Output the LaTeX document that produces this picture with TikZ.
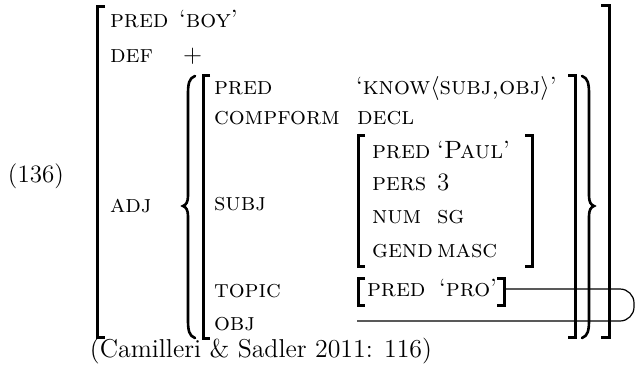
\documentclass[tikz,border=0pt]{standalone}
\usepackage{fontspec}
\usepackage{graphicx}
\begin{document}
\begin{tikzpicture}[x=0.5pt,y=-0.5pt,
  every node/.style={inner sep=0pt,outer sep=0pt,anchor=base west,
    font=\fontsize{12.5}{15}\selectfont},
  fbracket/.style={line width=1.5pt,line cap=butt,line join=miter},
  fbrace/.style={line width=1.3pt,line cap=round},
  link/.style={line width=0.6pt}]
\useasboundingbox (0,0) rectangle (636,369);

% example number
\node (exnum) at (8,182) {(136)};

% outer f-structure
\node (pred0) at (110,28) {\textsc{pred}};
\node (boy) at (179,28) {`\textsc{boy}'};
\node (def) at (110,62) {\textsc{def}};
\node (plus) at (183,62) {+};
\node (adj) at (110,212) {\textsc{adj}};

% adjunct f-structure
\node (pred1) at (214,95) {\textsc{pred}};
\node (know) at (356,95) {`\textsc{know}$\langle$\textsc{subj,obj}$\rangle$'};
\node (compform) at (214,124) {\textsc{compform}};
\node (decl) at (357,124) {\textsc{decl}};
\node (subj) at (214,210) {\textsc{subj}};
\node (topic) at (214,297) {\textsc{topic}};
\node (obj) at (214,330) {\textsc{obj}};

% subject f-structure
\node (pred2) at (372,158) {\textsc{pred}};
\node (paul) at (437,158) {`\textsc{Paul}'};
\node (pers) at (372,190) {\textsc{pers}};
\node (three) at (437,190) {3};
\node (num) at (372,223) {\textsc{num}};
\node (sg) at (437,223) {\textsc{sg}};
\node (gend) at (372,257) {\textsc{gend}};
\node (masc) at (437,257) {\textsc{masc}};

% topic f-structure
\node (pred3) at (367,296) {\textsc{pred}};
\node (pro) at (439,296) {`\textsc{pro}'};

% citation, right end fixed
\node[anchor=base east] (cite) at (432,357) {\resizebox{171pt}{!}{(Camilleri \& Sadler 2011: 116)}};

% outer brackets
\draw[fbracket] (105,7) -- (97,7) -- (97,337) -- (105,337);
\draw[fbracket] (601,6) -- (609,6) -- (609,337) -- (601,337);

% adjunct set braces
\draw[fbrace] (195,76) .. controls (189,78) and (188,84) .. (188,94)
  -- (188,196) .. controls (188,202) and (186,205) .. (183,206)
  .. controls (186,207) and (188,210) .. (188,216)
  -- (188,320) .. controls (188,330) and (189,336) .. (195,338);
\draw[fbrace] (582,76) .. controls (588,78) and (589,84) .. (589,94)
  -- (589,196) .. controls (589,202) and (591,205) .. (594,206)
  .. controls (591,207) and (589,210) .. (589,216)
  -- (589,320) .. controls (589,330) and (588,336) .. (582,338);

% adjunct f-structure brackets
\draw[fbracket] (210,76) -- (203,76) -- (203,338) -- (210,338);
\draw[fbracket] (568,76) -- (575,76) -- (575,337) -- (568,337);

% subject brackets
\draw[fbracket] (365,135) -- (358,135) -- (358,266) -- (365,266);
\draw[fbracket] (525,135) -- (532,135) -- (532,266) -- (525,266);

% topic brackets
\draw[fbracket] (365,278) -- (358,278) -- (358,305) -- (365,305);
\draw[fbracket] (497,278) -- (504,278) -- (504,305) -- (497,305);

% structure sharing between topic and obj
\coordinate (topicR) at (504,289);
\coordinate (objval) at (357,321);
\draw[link,rounded corners=7pt] (topicR) -- (634,289) -- (634,321) -- (objval);
\end{tikzpicture}
\end{document}
